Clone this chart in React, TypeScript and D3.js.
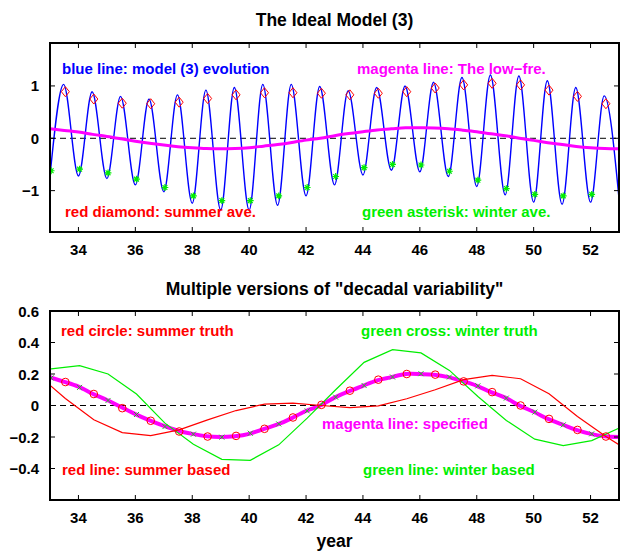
import React from "react";
import * as d3 from "d3";

// time axis (years) and ticks
const years = [33, 34, 35, 36, 37, 38, 39, 40, 41, 42, 43, 44, 45, 46, 47, 48, 49, 50, 51, 52];
const xTicks = [34, 36, 38, 40, 42, 44, 46, 48, 50, 52];
const topYTicks = [-1, 0, 1];
const botYTicks = [-0.4, -0.2, 0, 0.2, 0.4, 0.6];

// top panel: model (3) evolution, extremes of the seasonal cycle
const bluePeaks = [1.03, 0.89, 0.8, 0.75, 0.83, 0.92, 0.97, 1.03, 1.03, 0.99, 0.91, 0.97, 1.0, 1.07, 1.16, 1.21, 1.19, 1.1, 0.97, 0.81];
const blueTroughs = [-0.72, -0.72, -0.77, -0.89, -1.02, -1.24, -1.37, -1.37, -1.28, -1.1, -0.89, -0.7, -0.61, -0.64, -0.73, -0.92, -1.08, -1.22, -1.26, -1.22, -1.15];
const summerAve = [0.89, 0.75, 0.67, 0.66, 0.69, 0.76, 0.83, 0.87, 0.87, 0.86, 0.83, 0.86, 0.89, 0.96, 1.02, 1.05, 1.02, 0.92, 0.8, 0.66];
const winterAve = [-0.62, -0.59, -0.66, -0.78, -0.94, -1.1, -1.19, -1.19, -1.1, -0.94, -0.73, -0.56, -0.5, -0.51, -0.63, -0.8, -0.96, -1.07, -1.1, -1.07];

// low-frequency (specified) signal, half-year steps from 33 to 53
const lowFreq = [0.18, 0.15, 0.12, 0.075, 0.035, -0.01, -0.055, -0.095, -0.13, -0.16, -0.18, -0.195, -0.2, -0.195, -0.18, -0.15, -0.12, -0.08, -0.035, 0.0, 0.05, 0.09, 0.125, 0.16, 0.18, 0.2, 0.2, 0.195, 0.18, 0.155, 0.125, 0.085, 0.05, 0.0, -0.04, -0.085, -0.12, -0.155, -0.18, -0.195, -0.2];

// bottom panel
const summerTruth = [0.149, 0.073, -0.017, -0.097, -0.165, -0.197, -0.193, -0.148, -0.076, 0.004, 0.094, 0.164, 0.2, 0.196, 0.153, 0.085, 0.0, -0.085, -0.155, -0.197];
const winterTruth = [0.175, 0.115, 0.032, -0.057, -0.134, -0.182, -0.201, -0.176, -0.117, -0.034, 0.053, 0.127, 0.181, 0.202, 0.181, 0.125, 0.047, -0.042, -0.123, -0.18];
// based estimates run one year each side (32..53), clipped to the axes
const summerBased = [0.2, 0.045, -0.091, -0.172, -0.191, -0.155, -0.091, -0.032, 0.009, 0.015, 0.0, -0.013, -0.002, 0.043, 0.1, 0.164, 0.191, 0.17, 0.075, -0.07, -0.197, -0.31];
const winterBased = [0.21, 0.233, 0.253, 0.2, 0.073, -0.112, -0.246, -0.342, -0.348, -0.25, -0.08, 0.1, 0.274, 0.355, 0.334, 0.223, 0.057, -0.095, -0.214, -0.255, -0.223, -0.14];

const SUMMER = 0.54;
const WINTER = 0.04;
const PEAK = 0.48;

const FONT = "'Liberation Sans', Arial, Helvetica, sans-serif";
const BLUE = "#0000ff";
const RED = "#ff0000";
const GREEN = "#00ee00";
const MAGENTA = "#ff00ff";

const L = 50, R = 619;
const x = d3.scaleLinear().domain([33, 53]).range([L, R]);
const yTop = d3.scaleLinear().domain([-1.79, 1.82]).range([232, 43]);
const yBot = d3.scaleLinear().domain([-0.6, 0.6]).range([500, 311]);

type Pt = [number, number];

function Frame({ y, ticks, fmt }: { y: d3.ScaleLinear<number, number>; ticks: number[]; fmt: (v: number) => string }) {
  const [b, t] = y.range();
  return (
    <g>
      {xTicks.map((v) => (
        <g key={"x" + v}>
          <line x1={x(v)} x2={x(v)} y1={b} y2={b - 5} stroke="#000" />
          <line x1={x(v)} x2={x(v)} y1={t} y2={t + 5} stroke="#000" />
        </g>
      ))}
      {ticks.map((v) => (
        <g key={"y" + v}>
          <line x1={L} x2={L + 5} y1={y(v)} y2={y(v)} stroke="#000" />
          <line x1={R} x2={R - 5} y1={y(v)} y2={y(v)} stroke="#000" />
          <text x={39} y={y(v) + 5.5} textAnchor="end" fontSize={15} fontWeight="bold" fontFamily={FONT}>
            {fmt(v)}
          </text>
        </g>
      ))}
      {xTicks.map((v) => (
        <text key={"xl" + v} x={x(v)} y={b + 23} textAnchor="middle" fontSize={15} fontWeight="bold" fontFamily={FONT}>
          {v}
        </text>
      ))}
      <rect x={L} y={t} width={R - L} height={b - t} fill="none" stroke="#000" strokeWidth={2} />
    </g>
  );
}

const minus = (s: string) => s.replace("-", "\u2212");

export default function App() {
  // blue seasonal curve through alternating troughs and peaks
  const bluePts: Pt[] = [];
  blueTroughs.forEach((v, i) => {
    bluePts.push([33 + i, v]);
    if (i < bluePeaks.length) bluePts.push([33 + i + PEAK, bluePeaks[i]]);
  });
  const blueLine = d3
    .line<Pt>()
    .x((d) => x(d[0]))
    .y((d) => yTop(d[1]))
    .curve(d3.curveMonotoneX);

  const lowPts: Pt[] = lowFreq.map((v, i) => [33 + i * 0.5, v]);
  const lowTop = d3.line<Pt>().x((d) => x(d[0])).y((d) => yTop(d[1])).curve(d3.curveNatural);
  const lowBot = d3.line<Pt>().x((d) => x(d[0])).y((d) => yBot(d[1])).curve(d3.curveNatural);
  const straightBot = d3.line<Pt>().x((d) => x(d[0])).y((d) => yBot(d[1]));

  const sumBasedPts: Pt[] = summerBased.map((v, i) => [32 + SUMMER + i, v]);
  const winBasedPts: Pt[] = winterBased.map((v, i) => [32 + WINTER + i, v]);

  const lbl = (txt: string, px: number, py: number, color: string) => (
    <text x={px} y={py} fill={color} fontSize={15} fontWeight="bold" fontFamily={FONT}>
      {txt}
    </text>
  );

  return (
    <svg width={620} height={551} style={{ position: "absolute", left: 0, top: 0, background: "#fff" }}>
      <defs>
        <clipPath id="clipTop">
          <rect x={L} y={43} width={R - L} height={189} />
        </clipPath>
        <clipPath id="clipBot">
          <rect x={L} y={311} width={R - L} height={189} />
        </clipPath>
      </defs>

      {/* ---------- top panel ---------- */}
      <text x={(L + R) / 2} y={26} textAnchor="middle" fontSize={17.5} fontWeight="bold" fontFamily={FONT}>
        The Ideal Model (3)
      </text>
      <g clipPath="url(#clipTop)">
        <line x1={L} x2={R} y1={yTop(0)} y2={yTop(0)} stroke="#000" strokeDasharray="6,4" />
        <path d={blueLine(bluePts) || ""} fill="none" stroke={BLUE} strokeWidth={1.4} />
        <path d={lowTop(lowPts) || ""} fill="none" stroke={MAGENTA} strokeWidth={3} />
        {summerAve.map((v, i) => (
          <path
            key={"d" + i}
            transform={`translate(${x(years[i] + SUMMER)},${yTop(v)})`}
            d="M0,-5L4,0L0,5L-4,0Z"
            fill="none"
            stroke={RED}
            strokeWidth={1}
          />
        ))}
        {winterAve.map((v, i) => (
          <path
            key={"a" + i}
            transform={`translate(${x(years[i] + WINTER)},${yTop(v)})`}
            d="M-3.4,0H3.4M0,-3.4V3.4M-2.4,-2.4L2.4,2.4M-2.4,2.4L2.4,-2.4"
            stroke={GREEN}
            strokeWidth={1.2}
          />
        ))}
      </g>
      {lbl("blue line: model (3) evolution", 62, 74, BLUE)}
      {lbl("magenta line: The low\u2212fre.", 357, 74, MAGENTA)}
      {lbl("red diamond: summer ave.", 65, 217, RED)}
      {lbl("green asterisk: winter ave.", 362, 217, GREEN)}
      <Frame y={yTop} ticks={topYTicks} fmt={(v) => minus(String(v))} />

      {/* ---------- bottom panel ---------- */}
      <text x={(L + R) / 2} y={295} textAnchor="middle" fontSize={17.5} fontWeight="bold" fontFamily={FONT}>
        Multiple versions of "decadal variability"
      </text>
      <g clipPath="url(#clipBot)">
        <line x1={L} x2={R} y1={yBot(0)} y2={yBot(0)} stroke="#000" strokeDasharray="6,4" />
        <path d={lowBot(lowPts) || ""} fill="none" stroke={MAGENTA} strokeWidth={4} />
        <path d={straightBot(winBasedPts) || ""} fill="none" stroke={GREEN} strokeWidth={1.2} />
        <path d={straightBot(sumBasedPts) || ""} fill="none" stroke={RED} strokeWidth={1.2} />
        {summerTruth.map((v, i) => (
          <circle key={"c" + i} cx={x(years[i] + SUMMER)} cy={yBot(v)} r={3.8} fill="none" stroke={RED} strokeWidth={1} />
        ))}
        {winterTruth.map((v, i) => (
          <path
            key={"x" + i}
            transform={`translate(${x(years[i] + WINTER)},${yBot(v)})`}
            d="M-2.5,-2.5L2.5,2.5M-2.5,2.5L2.5,-2.5"
            stroke="#22bb22"
            strokeWidth={1}
          />
        ))}
      </g>
      {lbl("red circle: summer truth", 61, 336, RED)}
      {lbl("green cross: winter truth", 361, 336, GREEN)}
      {lbl("magenta line: specified", 322, 429, MAGENTA)}
      {lbl("red line: summer based", 62, 475, RED)}
      {lbl("green line: winter based", 363, 475, GREEN)}
      <Frame y={yBot} ticks={botYTicks} fmt={(v) => minus(String(v))} />
      <text x={(L + R) / 2} y={547} textAnchor="middle" fontSize={17.5} fontWeight="bold" fontFamily={FONT}>
        year
      </text>
    </svg>
  );
}
